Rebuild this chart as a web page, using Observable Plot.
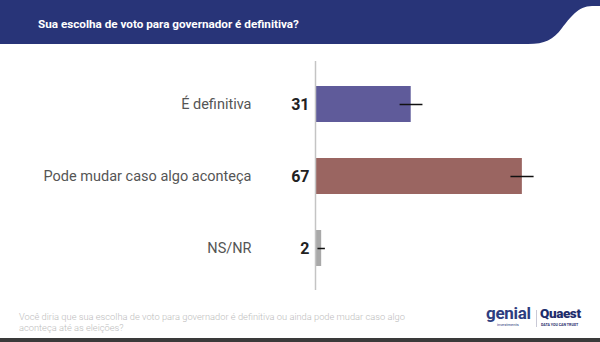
<!DOCTYPE html>
<html>
<head>
<meta charset="utf-8">
<script src="https://cdn.jsdelivr.net/npm/d3@7"></script>
<script src="https://cdn.jsdelivr.net/npm/@observablehq/plot@0.6"></script>
<style>
  html, body { margin: 0; padding: 0; background: #fff; }
  #wrap { position: relative; width: 600px; height: 342px; overflow: hidden; font-family: Roboto, "Noto Sans", sans-serif; }
  #hdr { position: absolute; left: 0; top: 0; }
  #title { position: absolute; left: 38px; top: 17px; color: #fff; font-weight: 700; font-size: 11.7px; line-height: 14px; white-space: nowrap; }
  #chart { position: absolute; left: 0; top: 0; }
  #foot { position: absolute; left: 19px; top: 312px; color: #bdbdbd; font-size: 9.3px; line-height: 10.5px; font-weight: 300; white-space: nowrap; }
  #bottom { position: absolute; left: 0; top: 338px; width: 600px; height: 4px; background: #3a3a3a; }
  .logo1 { position: absolute; left: 486px; top: 306px; color: #2e3d80; font-weight: 700; font-size: 17px; line-height: 15px; letter-spacing: -0.3px; }
  .logo1s { position: absolute; left: 497px; top: 323px; color: #2e3d80; font-size: 4px; line-height: 4px; }
  .div { position: absolute; left: 536px; top: 310px; width: 1px; height: 17px; background: #c9c9d6; }
  .logo2 { position: absolute; left: 540px; top: 307px; color: #1f2d6c; font-weight: 900; font-size: 13.5px; line-height: 13px; letter-spacing: -0.4px; }
  .logo2s { position: absolute; left: 541px; top: 323px; color: #1f2d6c; font-size: 3.6px; line-height: 4px; font-weight: 700; white-space: nowrap; }
</style>
</head>
<body>
<div id="wrap">
  <div id="chart"></div>
  <svg id="hdr" width="600" height="46">
    <path d="M0,0 H600 V6 H592 C578,6 570,18 562,28 C553,40 545,44 528,44 H0 Z" fill="#283478"></path>
  </svg>
  <div id="title">Sua escolha de voto para governador é definitiva?</div>
  <div id="foot">Você diria que sua escolha de voto para governador é definitiva ou ainda pode mudar caso algo<br>aconteça até as eleições?</div>
  <div class="logo1">genial</div>
  <div class="logo1s">investments</div>
  <div class="div"></div>
  <div class="logo2">Quaest</div>
  <div class="logo2s">DATA YOU CAN TRUST</div>
  <div id="bottom"></div>
</div>
<script>
const categories = ["É definitiva", "Pode mudar caso algo aconteça", "NS/NR"];
const values = [31, 67, 2];
const errLow = [27.4, 63.3, 0.8];
const errHigh = [34.8, 70.8, 3.2];
const colors = ["#5f5b9a", "#9a6561", "#a9a9a9"];

const data = categories.map((c, i) => ({cat: c, value: values[i], lo: errLow[i], hi: errHigh[i], color: colors[i]}));

const chart = Plot.plot({
  width: 600,
  height: 342,
  marginTop: 61,
  marginBottom: 52,
  marginLeft: 315,
  marginRight: 38,
  style: {fontFamily: "Roboto, sans-serif", background: "transparent"},
  x: {domain: [0, 80], axis: null},
  y: {domain: categories, paddingInner: 0.5, paddingOuter: 0.33, label: null},
  marks: [
    Plot.axisY({tickSize: 0, tickPadding: 64, fontSize: 14.5, color: "#555", label: null}),
    Plot.barX(data, {y: "cat", x: "value", fill: "color"}),
    Plot.ruleX([0], {stroke: "#c4c4c4", strokeWidth: 1.5}),
    Plot.ruleY(data, {y: "cat", x1: "lo", x2: "hi", stroke: "#111", strokeWidth: 1.5}),
    Plot.text(data, {y: "cat", x: 0, text: d => String(d.value), dx: -6, textAnchor: "end", fontSize: 16, fontWeight: 700, fill: "#222"})
  ]
});
document.getElementById("chart").appendChild(chart);
</script>
</body>
</html>
